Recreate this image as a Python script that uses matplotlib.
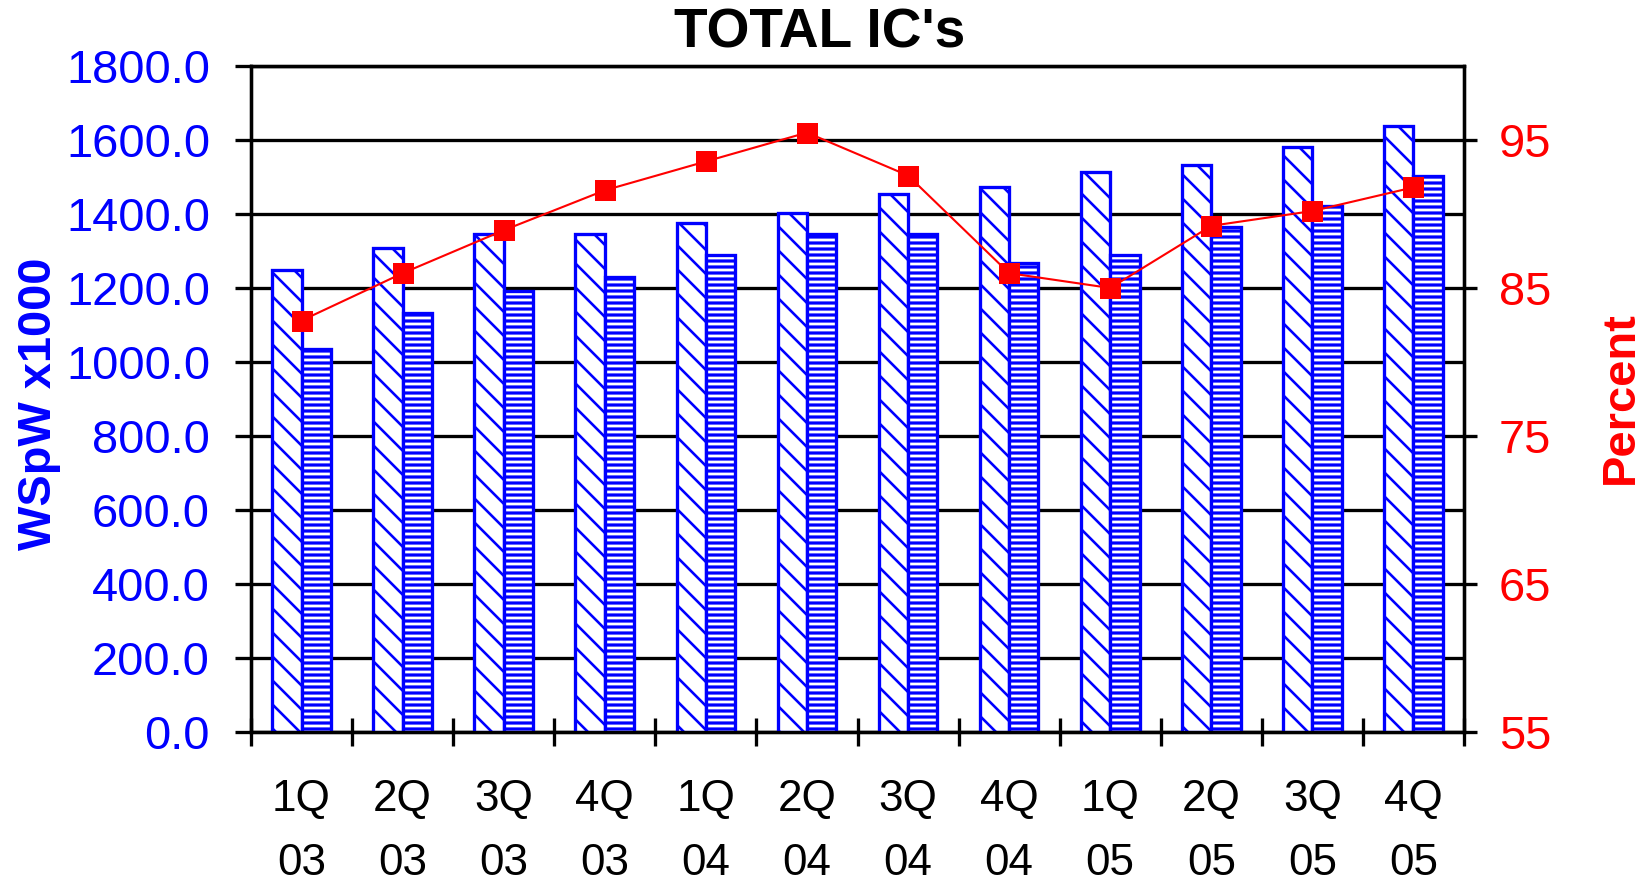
import matplotlib
matplotlib.use("Agg")
import matplotlib.pyplot as plt
import numpy as np

categories = ["1Q\n03", "2Q\n03", "3Q\n03", "4Q\n03", "1Q\n04", "2Q\n04",
              "3Q\n04", "4Q\n04", "1Q\n05", "2Q\n05", "3Q\n05", "4Q\n05"]
series_a = [1249, 1307, 1345, 1345, 1375, 1403, 1454, 1472, 1513, 1532, 1580, 1637]
series_b = [1035, 1132, 1192, 1229, 1290, 1347, 1345, 1267, 1288, 1366, 1422, 1503]
percent = [82.8, 86.0, 88.9, 91.6, 93.55, 95.5, 92.6, 86.0, 85.0, 89.2, 90.2, 91.8]
left_ticks = [0, 200, 400, 600, 800, 1000, 1200, 1400, 1600, 1800]
right_ticks = [55, 65, 75, 85, 95]

plt.rcParams['font.family'] = ['Liberation Sans', 'DejaVu Sans']
plt.rcParams['hatch.color'] = 'blue'

# dpi 72 -> 1 pt == 1 px
W, H, DPI = 1643, 883, 72
fig = plt.figure(figsize=(W / DPI, H / DPI), dpi=DPI)
ax = fig.add_axes([251 / W, 1 - 732 / H, 1213 / W, 666 / H])

LW = 3.3
x = np.arange(len(categories))
bw = 0.29
plt.rcParams['hatch.linewidth'] = 2.6
b1 = ax.bar(x - bw / 2, series_a, width=bw, facecolor='white', edgecolor='blue',
            linewidth=LW, hatch='\\', zorder=3)
plt.rcParams['hatch.linewidth'] = 3.2
b2 = ax.bar(x + bw / 2, series_b, width=bw, facecolor='white', edgecolor='blue',
            linewidth=LW, hatch='--', zorder=3)
for p in b1:
    if hasattr(p, 'set_hatch_linewidth'):
        p.set_hatch_linewidth(2.6)
for p in b2:
    if hasattr(p, 'set_hatch_linewidth'):
        p.set_hatch_linewidth(3.2)

ax.set_xlim(-0.5, len(categories) - 0.5)
ax.set_ylim(0, 1800)
ax.set_yticks(left_ticks)
ax.set_yticklabels([f"{v:.1f}" for v in left_ticks], color='blue', fontsize=47)
ax.yaxis.grid(True, color='black', linewidth=LW)
ax.set_axisbelow(True)
ax.tick_params(axis='y', direction='out', length=16, width=LW, pad=25)

ax.set_xticks(x)
ax.set_xticklabels(categories, fontsize=44, linespacing=1.72)
ax.set_xticks(np.arange(-0.5, len(categories)), minor=True)
ax.tick_params(axis='x', which='major', length=0, pad=47)
ax.tick_params(axis='x', which='minor', direction='inout', length=28, width=LW)

for s in ax.spines.values():
    s.set_linewidth(LW)
    s.set_color('black')

ax2 = ax.twinx()
ax2.set_ylim(55, 100)
ax2.set_yticks(right_ticks)
ax2.set_yticklabels([str(v) for v in right_ticks], color='red', fontsize=47)
ax2.tick_params(axis='y', direction='out', length=13, width=LW, pad=22)
for s in ax2.spines.values():
    s.set_linewidth(LW)
ax2.plot(x, percent, color='red', linewidth=2.1, marker='s', markersize=21,
         markeredgewidth=0, zorder=5)

fig.text(820 / W, 1 - 48 / H, "TOTAL IC's", ha='center', va='baseline',
         fontsize=55, fontweight='bold', color='black')
fig.text(17 / W, 1 - 404 / H, "WSpW x1000", rotation=90, ha='left', va='center',
         fontsize=47, fontweight='bold', color='blue')
fig.text(1599 / W, 1 - 398 / H, "Percent", rotation=90, ha='left', va='center',
         fontsize=47, fontweight='bold', color='red')

fig.savefig("out.png", dpi=DPI)
